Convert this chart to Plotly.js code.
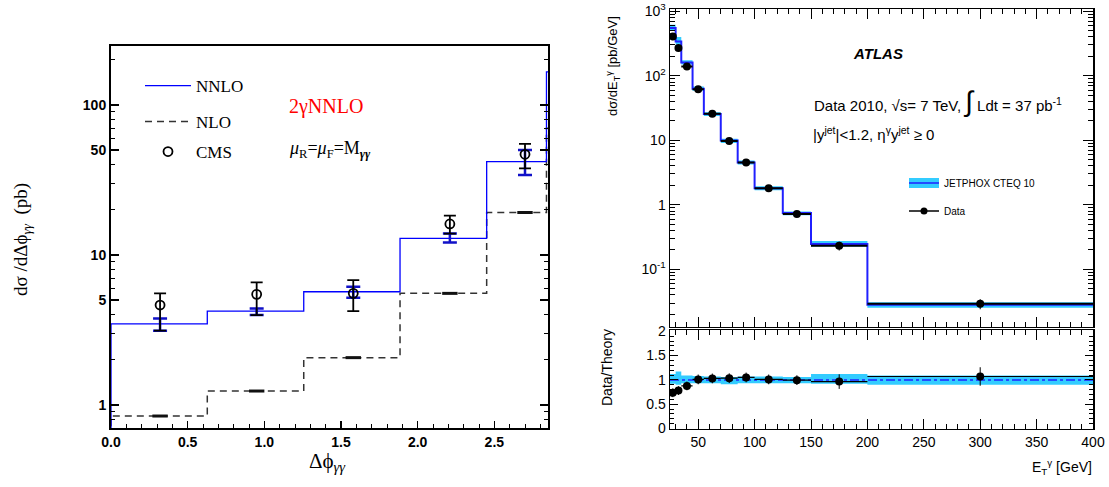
<!DOCTYPE html>
<html><head><meta charset="utf-8">
<script src="https://cdn.plot.ly/plotly-3.0.1.min.js"></script>
<style>html,body{margin:0;padding:0;background:#fff;} #chart{width:1109px;height:487px;}</style>
</head><body><div id="chart"></div>
<script>
// ---------- Left panel: 2γNNLO vs CMS (Δφγγ) ----------
const dphiEdges = [0, 0.628, 1.257, 1.885, 2.45, 2.84, 3.14];
const dphiCenters = [0.32, 0.95, 1.58, 2.21, 2.70];
const nnloValues = [3.47, 4.23, 5.69, 12.9, 41.9, 166];
const nnloErrPlus = [0.31, 0.17, 0.46, 1.0, 8.2];
const nnloErrMinus = [0.34, 0.25, 0.50, 0.8, 7.8];
const nloValues = [0.845, 1.24, 2.07, 5.55, 19.2, 70];
const cmsValues = [4.64, 5.47, 5.55, 16.1, 46.9];
const cmsErrPlus = [0.91, 1.11, 1.26, 2.2, 8.1];
const cmsErrMinus = [1.51, 1.49, 1.32, 2.2, 9.1];
const histFloor = 0.5;
const leftYTickVals = [1, 5, 10, 50, 100];
const leftYTickText = ['1', '5', '10', '50', '100'];
const leftYMinorVals = [0.7, 0.8, 0.9, 2, 3, 4, 6, 7, 8, 9, 20, 30, 40, 60, 70, 80, 90, 200];

// ---------- Right panel: ATLAS photon + jet ----------
const etEdges = [25, 30, 35, 45, 55, 70, 85, 100, 125, 150, 200, 400];
const etCenters = [27.5, 32.5, 40, 50, 62.5, 77.5, 92.5, 112.5, 137.5, 175, 300];
const jetphox = [550, 340, 160, 63, 25.5, 9.93, 4.53, 1.81, 0.743, 0.246, 0.0282];
const bandHi = [1.12, 1.17, 1.09, 1.08, 1.07, 1.06, 1.07, 1.07, 1.06, 1.12, 1.09];
const bandLo = [0.92, 0.90, 0.93, 0.93, 0.93, 0.91, 0.93, 0.93, 0.93, 0.92, 0.90];
const dataXsec = [407, 269, 139, 62, 25.8, 9.7, 4.53, 1.81, 0.72, 0.231, 0.0292];
const dataRatio = [0.735, 0.78, 0.876, 1.01, 1.03, 1.035, 1.05, 1.01, 0.995, 0.965, 1.07];
const ratioErr = [0.09, 0.09, 0.09, 0.1, 0.1, 0.1, 0.1, 0.1, 0.1, 0.15, 0.19];
const upperYTickVals = [0.1, 1, 10, 100, 1000];
const upperYTickText = ['10<sup>-1</sup>', '1', '10', '10<sup>2</sup>', '10<sup>3</sup>'];
const ratioTickVals = [0, 0.5, 1, 1.5, 2];
const ratioTickText = ['0', '0.5', '1', '1.5', '2'];
const etTickVals = [50, 100, 150, 200, 250, 300, 350, 400];

// ---------- helpers ----------
function step(edges, vals, floor) {
  const x = [], y = [];
  if (floor !== undefined) { x.push(edges[0]); y.push(floor); }
  vals.forEach((v, i) => { x.push(edges[i]); y.push(v); });
  x.push(edges[vals.length]); y.push(vals[vals.length - 1]);
  return {x, y};
}
function logMinors(lo, hi) {
  const out = [];
  for (let d = lo; d <= hi; d++) for (let k = 2; k <= 9; k++) out.push(k * Math.pow(10, d));
  return out;
}
const W = 1109, H = 487;
const px = v => v / W, py = v => 1 - v / H;

const nnloStep = step(dphiEdges, nnloValues, histFloor);
const nloStep = step(dphiEdges, nloValues, histFloor);
const bandHiAbs = jetphox.map((v, i) => v * bandHi[i]);
const bandLoAbs = jetphox.map((v, i) => v * bandLo[i]);
const thStep = step(etEdges, jetphox);
const bHiStep = step(etEdges, bandHiAbs);
const bLoStep = step(etEdges, bandLoAbs);
const rHiStep = step(etEdges, bandHi);
const rLoStep = step(etEdges, bandLo);
const unity = step(etEdges, jetphox.map(() => 1));
const xErrR = etCenters.map((c, i) => etEdges[i + 1] - c);
const xErrL = etCenters.map((c, i) => c - etEdges[i]);
const dataYErr = dataXsec.map((v, i) => v * ratioErr[i] / dataRatio[i]);

const cyan = '#33ccff';
const traces = [
  // left panel
  {x: nloStep.x, y: nloStep.y, mode: 'lines', line: {shape: 'hv', color: '#333', width: 1.5, dash: '7px,5px'},
   name: 'NLO', legend: 'legend2', xaxis: 'x', yaxis: 'y'},
  {x: dphiCenters, y: nloValues.slice(0, 5), mode: 'markers', showlegend: false,
   marker: {symbol: 'line-ew-open', size: 11, color: '#111', line: {width: 3, color: '#111'}}, xaxis: 'x', yaxis: 'y'},
  {x: nnloStep.x, y: nnloStep.y, mode: 'lines', line: {shape: 'hv', color: '#0000ff', width: 1.3},
   name: 'NNLO', legend: 'legend', xaxis: 'x', yaxis: 'y'},
  {x: dphiCenters, y: nnloValues.slice(0, 5), mode: 'markers', showlegend: false,
   marker: {size: 1, color: 'rgba(0,0,0,0)'},
   error_y: {type: 'data', symmetric: false, array: nnloErrPlus, arrayminus: nnloErrMinus, color: '#1010c8', thickness: 2.5, width: 7},
   xaxis: 'x', yaxis: 'y'},
  {x: dphiCenters, y: cmsValues, mode: 'markers', name: 'CMS', legend: 'legend3',
   marker: {symbol: 'circle-open', size: 9, color: '#000', line: {width: 1.8, color: '#000'}},
   error_y: {type: 'data', symmetric: false, array: cmsErrPlus, arrayminus: cmsErrMinus, color: '#000', thickness: 1.8, width: 6},
   xaxis: 'x', yaxis: 'y'},

  // right upper panel
  {x: bLoStep.x, y: bLoStep.y, mode: 'lines', line: {shape: 'hv', width: 0}, showlegend: false, hoverinfo: 'skip', xaxis: 'x2', yaxis: 'y2'},
  {x: bHiStep.x, y: bHiStep.y, mode: 'lines', line: {shape: 'hv', width: 0}, fill: 'tonexty', fillcolor: cyan,
   showlegend: false, xaxis: 'x2', yaxis: 'y2'},
  {x: thStep.x, y: thStep.y, mode: 'lines', line: {shape: 'hv', color: '#2020ff', width: 2},
   showlegend: false, xaxis: 'x2', yaxis: 'y2'},
  {x: etCenters, y: dataXsec, mode: 'markers', showlegend: false,
   marker: {size: 8, color: '#000'},
   error_x: {type: 'data', symmetric: false, array: xErrR, arrayminus: xErrL, color: '#000', thickness: 2, width: 0},
   error_y: {type: 'data', array: dataYErr, color: '#000', thickness: 1, width: 0},
   xaxis: 'x2', yaxis: 'y2'},
  // legend entries (no data)
  {x: [null], y: [null], mode: 'lines', name: ' ', legend: 'legend4',
   line: {color: cyan, width: 18}, xaxis: 'x2', yaxis: 'y2'},
  {x: [null], y: [null], mode: 'lines', name: 'JETPHOX CTEQ 10', legend: 'legend5',
   line: {color: '#2020ff', width: 1.5}, xaxis: 'x2', yaxis: 'y2'},
  {x: [null], y: [null], mode: 'lines+markers', name: 'Data', legend: 'legend6',
   line: {color: '#000', width: 1.5}, marker: {size: 7, color: '#000'}, xaxis: 'x2', yaxis: 'y2'},

  // right lower (ratio) panel
  {x: rLoStep.x, y: rLoStep.y, mode: 'lines', line: {shape: 'hv', width: 0}, showlegend: false, hoverinfo: 'skip', xaxis: 'x3', yaxis: 'y3'},
  {x: rHiStep.x, y: rHiStep.y, mode: 'lines', line: {shape: 'hv', width: 0}, fill: 'tonexty', fillcolor: cyan,
   showlegend: false, xaxis: 'x3', yaxis: 'y3'},
  {x: unity.x, y: unity.y, mode: 'lines', line: {shape: 'hv', color: '#2020ff', width: 1.5, dash: 'dashdot'},
   showlegend: false, xaxis: 'x3', yaxis: 'y3'},
  {x: etCenters, y: dataRatio, mode: 'markers', showlegend: false,
   marker: {size: 8, color: '#000'},
   error_x: {type: 'data', symmetric: false, array: xErrR, arrayminus: xErrL, color: '#000', thickness: 1.2, width: 0},
   error_y: {type: 'data', array: ratioErr, color: '#000', thickness: 1, width: 0},
   xaxis: 'x3', yaxis: 'y3'}
];

const boldTick = {family: 'Liberation Sans', size: 14, color: '#000', weight: 'bold'};
const sansTick = {family: 'Liberation Sans', size: 14, color: '#000'};
const serif = 'Liberation Serif';
const legendBase = {xanchor: 'left', yanchor: 'middle', bgcolor: 'rgba(0,0,0,0)', borderwidth: 0,
  font: {family: serif, size: 17, color: '#000'}, itemwidth: 46, itemclick: false};
const legendRight = {xanchor: 'left', yanchor: 'middle', bgcolor: 'rgba(0,0,0,0)', borderwidth: 0,
  font: {family: 'Liberation Sans', size: 10, color: '#000'}, itemwidth: 30, itemclick: false};

const layout = {
  width: W, height: H,
  margin: {l: 0, r: 0, t: 0, b: 0},
  paper_bgcolor: '#fff', plot_bgcolor: '#fff',
  font: {family: 'Liberation Sans', color: '#000'},
  xaxis: {domain: [px(111), px(548)], anchor: 'y', range: [0, 2.85], tickmode: 'linear', tick0: 0, dtick: 0.5,
    tickformat: '.1f', ticks: 'inside', ticklen: 7, tickwidth: 1.5, tickcolor: '#000',
    minor: {dtick: 0.1, tick0: 0, ticks: 'inside', ticklen: 4, tickwidth: 1, tickcolor: '#000'},
    showline: true, linewidth: 2, linecolor: '#000', mirror: true, showgrid: false, zeroline: false,
    tickfont: boldTick, fixedrange: true},
  yaxis: {domain: [py(428), py(46)], anchor: 'x', type: 'log', range: [-0.153, 2.393],
    tickmode: 'array', tickvals: leftYTickVals, ticktext: leftYTickText,
    ticks: 'inside', ticklen: 8, tickwidth: 1.5, tickcolor: '#000',
    minor: {tickmode: 'array', tickvals: leftYMinorVals, ticks: 'inside', ticklen: 4, tickwidth: 1, tickcolor: '#000'},
    showline: true, linewidth: 2, linecolor: '#000', mirror: 'ticks', showgrid: false, zeroline: false,
    tickfont: boldTick, fixedrange: true},
  xaxis2: {domain: [px(670), px(1093)], anchor: 'y2', range: [25, 400], tickmode: 'array', tickvals: etTickVals,
    showticklabels: false, ticks: 'inside', ticklen: 10, tickwidth: 1, tickcolor: '#000',
    minor: {dtick: 10, tick0: 0, ticks: 'inside', ticklen: 5, tickwidth: 1, tickcolor: '#000'},
    showline: true, linewidth: 1.5, linecolor: '#000', mirror: 'ticks', showgrid: false, zeroline: false},
  yaxis2: {domain: [py(326.7), py(9.3)], anchor: 'x2', type: 'log', range: [-1.89, 3.03],
    tickmode: 'array', tickvals: upperYTickVals, ticktext: upperYTickText,
    ticks: 'inside', ticklen: 10, tickwidth: 1, tickcolor: '#000',
    minor: {tickmode: 'array', tickvals: logMinors(-2, 2), ticks: 'inside', ticklen: 5, tickwidth: 1, tickcolor: '#000'},
    showline: true, linewidth: 1.5, linecolor: '#000', mirror: 'ticks', showgrid: false, zeroline: false,
    tickfont: sansTick},
  xaxis3: {domain: [px(670), px(1093)], anchor: 'y3', range: [25, 400], tickmode: 'array', tickvals: etTickVals,
    ticks: 'inside', ticklen: 10, tickwidth: 1, tickcolor: '#000',
    minor: {dtick: 10, tick0: 0, ticks: 'inside', ticklen: 5, tickwidth: 1, tickcolor: '#000'},
    showline: true, linewidth: 1.5, linecolor: '#000', mirror: 'ticks', showgrid: false, zeroline: false,
    tickfont: sansTick},
  yaxis3: {domain: [py(428.5), py(330.3)], anchor: 'x3', range: [0, 2.02],
    tickmode: 'array', tickvals: ratioTickVals, ticktext: ratioTickText,
    ticks: 'inside', ticklen: 8, tickwidth: 1, tickcolor: '#000',
    minor: {dtick: 0.1, tick0: 0, ticks: 'inside', ticklen: 4, tickwidth: 1, tickcolor: '#000'},
    showline: true, linewidth: 1.5, linecolor: '#000', mirror: 'ticks', showgrid: false, zeroline: false,
    tickfont: sansTick},
  legend: Object.assign({x: px(140), y: py(86)}, legendBase),
  legend2: Object.assign({x: px(140), y: py(122)}, legendBase),
  legend3: Object.assign({x: px(140), y: py(152)}, legendBase),
  legend4: Object.assign({x: px(904), y: py(183)}, legendRight),
  legend5: Object.assign({x: px(904), y: py(183)}, legendRight),
  legend6: Object.assign({x: px(904), y: py(211)}, legendRight),
  annotations: [
    {text: '2γNNLO', xref: 'paper', yref: 'paper', x: px(287), y: py(106), xanchor: 'left', yanchor: 'middle',
     showarrow: false, font: {family: serif, size: 20, color: '#ff0000'}},
    {text: '<i>μ</i><sub>R</sub>=<i>μ</i><sub>F</sub>=M<sub><i><b>γγ</b></i></sub>', xref: 'paper', yref: 'paper', x: px(287), y: py(149),
     xanchor: 'left', yanchor: 'middle', showarrow: false, font: {family: serif, size: 18, color: '#000'}},
    {text: 'dσ /dΔϕ<sub><i>γγ</i></sub>  (pb)', xref: 'paper', yref: 'paper', x: px(22), y: py(240), textangle: -90,
     xanchor: 'center', yanchor: 'middle', showarrow: false, font: {family: serif, size: 19, color: '#000'}},
    {text: 'Δϕ<sub><i>γγ</i></sub>', xref: 'paper', yref: 'paper', x: px(327), y: py(462),
     xanchor: 'center', yanchor: 'middle', showarrow: false, font: {family: serif, size: 21, color: '#000'}},
    {text: '<b><i>ATLAS</i></b>', xref: 'paper', yref: 'paper', x: px(878), y: py(54),
     xanchor: 'center', yanchor: 'middle', showarrow: false, font: {family: 'Liberation Sans', size: 15, color: '#000'}},
    {text: 'Data 2010, √s= 7 TeV, <span style="font-size:28px">∫</span> Ldt = 37 pb<sup>-1</sup>', xref: 'paper', yref: 'paper',
     x: px(812), y: py(101), xanchor: 'left', yanchor: 'middle', showarrow: false,
     font: {family: 'Liberation Sans', size: 15, color: '#000'}},
    {text: '|y<sup>jet</sup>|<1.2, η<sup>γ</sup>y<sup>jet</sup> ≥ 0', xref: 'paper', yref: 'paper',
     x: px(811), y: py(133), xanchor: 'left', yanchor: 'middle', showarrow: false,
     font: {family: 'Liberation Sans', size: 15, color: '#000'}},
    {text: 'dσ/dE<sub>T</sub><sup>γ</sup> [pb/GeV]', xref: 'paper', yref: 'paper', x: px(613), y: py(66), textangle: -90,
     xanchor: 'center', yanchor: 'middle', showarrow: false, font: {family: 'Liberation Sans', size: 13, color: '#000'}},
    {text: 'Data/Theory', xref: 'paper', yref: 'paper', x: px(607), y: py(368), textangle: -90,
     xanchor: 'center', yanchor: 'middle', showarrow: false, font: {family: 'Liberation Sans', size: 14, color: '#000'}},
    {text: 'E<sub>T</sub><sup>γ</sup> [GeV]', xref: 'paper', yref: 'paper', x: px(1094), y: py(467),
     xanchor: 'right', yanchor: 'middle', showarrow: false, font: {family: 'Liberation Sans', size: 14, color: '#000'}}
  ],
  showlegend: true
};

Plotly.newPlot('chart', traces, layout, {displayModeBar: false, staticPlot: true});
</script>
</body></html>
